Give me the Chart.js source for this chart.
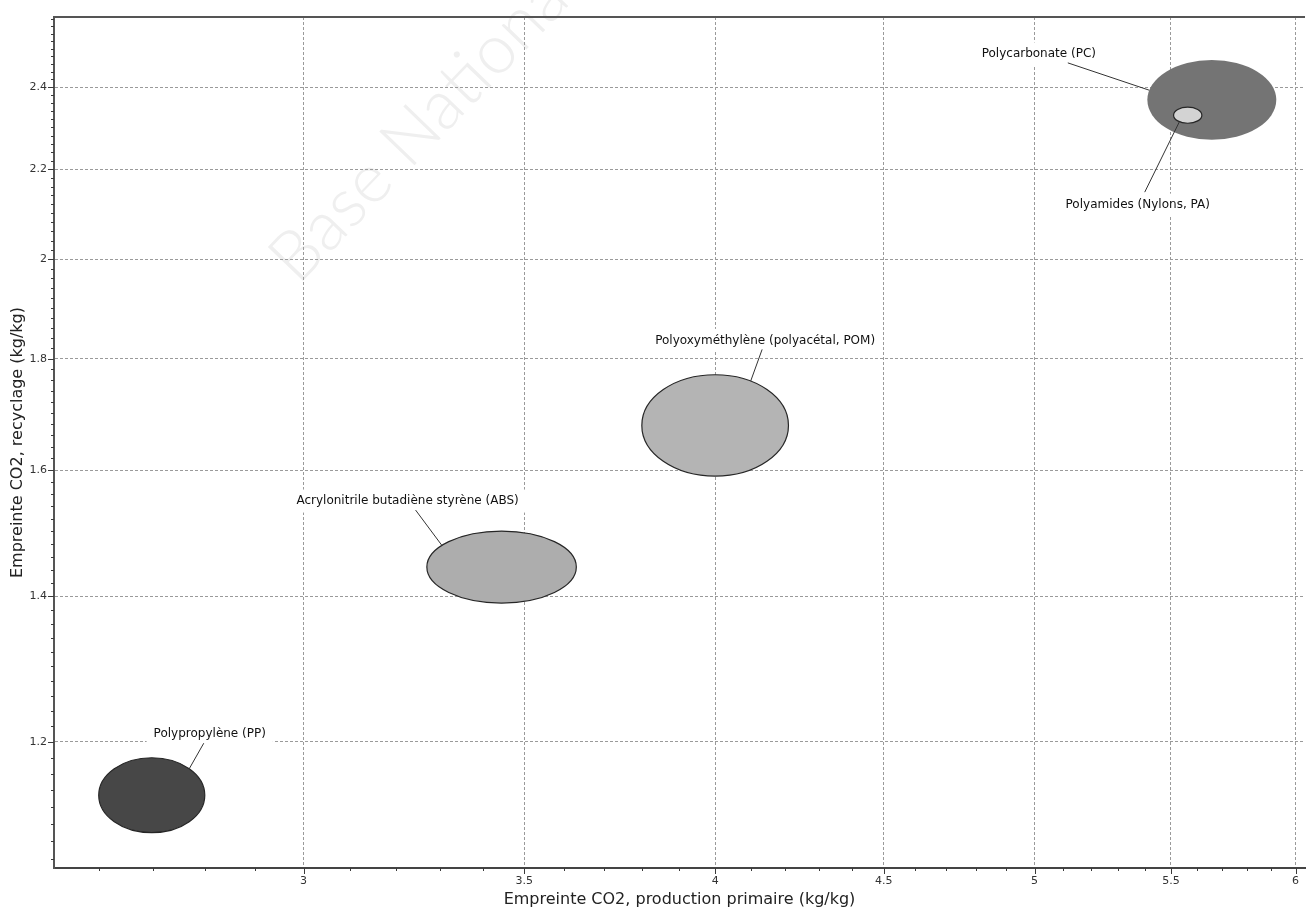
<!DOCTYPE html>
<html>
<head>
<meta charset="utf-8">
<script src="https://cdn.jsdelivr.net/npm/chart.js@4.4.1/dist/chart.umd.min.js"></script>
<style>
  html, body { margin: 0; padding: 0; background: #ffffff; }
  #wrap { width: 1306px; height: 910px; }
</style>
</head>
<body>
<div id="wrap"><canvas id="chart" width="1306" height="910"></canvas></div>
<script>
// Materials and their CO2 footprint ranges (kg/kg)
const materials = [
  'Polypropylène (PP)',
  'Acrylonitrile butadiène styrène (ABS)',
  'Polyoxyméthylène (polyacétal, POM)',
  'Polycarbonate (PC)',
  'Polyamides (Nylons, PA)'
];
const primaryMin = [2.6, 3.27, 3.8, 5.41, 5.51];
const primaryMax = [2.8, 3.63, 4.21, 5.92, 5.62];
const recycleMin = [1.09, 1.39, 1.59, 2.27, 2.31];
const recycleMax = [1.18, 1.50, 1.77, 2.47, 2.35];

// Labelled axis ticks
const xTickValues = [3, 3.5, 4, 4.5, 5, 5.5, 6];
const yTickValues = [1.2, 1.4, 1.6, 1.8, 2, 2.2, 2.4];

const xTitle = 'Empreinte CO2, production primaire (kg/kg)';
const yTitle = 'Empreinte CO2, recyclage (kg/kg)';
const watermark = 'Base Nationale';

// Appearance of each bubble
const fills = ['#474747', '#adadad', '#b4b4b4', '#747474', '#d3d3d3'];
const outlines = ['#262626', '#262626', '#262626', null, '#262626'];
// Label placement: text centre offset from bubble centre, leader start offset from text centre,
// and the angle on the bubble outline where the leader ends (degrees)
const labelLayout = [
  { dx: 58, dy: -61, sx: -6, sy: 9, a: -45 },
  { dx: -94, dy: -66, sx: 8, sy: 9, a: -143 },
  { dx: 50, dy: -85, sx: -3, sy: 9, a: -61 },
  { dx: -173, dy: -46, sx: 29, sy: 9, a: 194 },
  { dx: -50, dy: 90, sx: 7, sy: -13, a: 126 }
];

const FONT = '"DejaVu Sans", Verdana, sans-serif';
const majorX = new Set(xTickValues);
const majorY = new Set(yTickValues);

function stepTicks(from, to, step) {
  const out = [];
  const n = Math.round((to - from) / step);
  for (let i = 0; i <= n; i++) out.push(Math.round((from + i * step) * 1000) / 1000);
  return out;
}
const xAllTicks = stepTicks(2.6, 6.0, 0.1);
const yAllTicks = stepTicks(1.06, 2.58, 0.02);

const datasets = materials.map((name, i) => ({
  label: name,
  data: [{ x: Math.sqrt(primaryMin[i] * primaryMax[i]), y: Math.sqrt(recycleMin[i] * recycleMax[i]) }],
  pointRadius: 0,
  pointHoverRadius: 0,
  backgroundColor: fills[i]
}));

const rangeBubbles = {
  id: 'rangeBubbles',
  beforeDraw(chart) {
    const { ctx } = chart;
    ctx.save();
    ctx.translate(298, 286);
    ctx.rotate(-46 * Math.PI / 180);
    ctx.font = '300 69px Lato, "Open Sans", sans-serif';
    ctx.fillStyle = '#efefef';
    ctx.textBaseline = 'alphabetic';
    ctx.fillText(watermark, 0, 0);
    ctx.restore();
  },
  afterDatasetsDraw(chart) {
    const { ctx, scales: { x, y } } = chart;
    const geo = materials.map((m, i) => {
      const x0 = x.getPixelForValue(primaryMin[i]);
      const x1 = x.getPixelForValue(primaryMax[i]);
      const y0 = y.getPixelForValue(recycleMax[i]);
      const y1 = y.getPixelForValue(recycleMin[i]);
      return { cx: (x0 + x1) / 2, cy: (y0 + y1) / 2, rx: (x1 - x0) / 2, ry: (y1 - y0) / 2 };
    });
    ctx.save();
    geo.forEach((g, i) => {
      ctx.beginPath();
      ctx.ellipse(g.cx, g.cy, g.rx, g.ry, 0, 0, Math.PI * 2);
      ctx.fillStyle = fills[i];
      ctx.fill();
      if (outlines[i]) {
        ctx.lineWidth = 1.2;
        ctx.strokeStyle = outlines[i];
        ctx.stroke();
      }
    });
    // leaders and labels
    ctx.font = '12px ' + FONT;
    ctx.textAlign = 'center';
    ctx.textBaseline = 'middle';
    geo.forEach((g, i) => {
      const L = labelLayout[i];
      const tx = g.cx + L.dx, ty = g.cy + L.dy;
      const w = ctx.measureText(materials[i]).width;
      ctx.fillStyle = '#ffffff';
      ctx.fillRect(tx - w / 2 - 7, ty - 11.5, w + 14, 23);
      const ang = L.a * Math.PI / 180;
      ctx.beginPath();
      ctx.moveTo(tx + L.sx, ty + L.sy);
      ctx.lineTo(g.cx + g.rx * Math.cos(ang), g.cy + g.ry * Math.sin(ang));
      ctx.lineWidth = 1;
      ctx.strokeStyle = '#333333';
      ctx.stroke();
      ctx.fillStyle = '#111111';
      ctx.fillText(materials[i], tx, ty);
    });
    ctx.restore();
  },
  afterDraw(chart) {
    const { ctx, chartArea: a, scales: { x, y } } = chart;
    ctx.save();
    ctx.strokeStyle = '#3a3a3a';
    ctx.lineWidth = 1;
    ctx.beginPath();
    xAllTicks.forEach(v => {
      const px = Math.round(x.getPixelForValue(v)) + 0.5;
      const len = majorX.has(v) ? 6 : 3;
      ctx.moveTo(px, a.bottom);
      ctx.lineTo(px, a.bottom + len);
    });
    yAllTicks.forEach(v => {
      const py = Math.round(y.getPixelForValue(v)) + 0.5;
      const len = majorY.has(v) ? 6 : 3;
      ctx.moveTo(a.left - len, py);
      ctx.lineTo(a.left, py);
    });
    ctx.stroke();
    // top frame line
    ctx.strokeStyle = '#555555';
    ctx.lineWidth = 2;
    ctx.beginPath();
    ctx.moveTo(a.left, a.top);
    ctx.lineTo(a.right, a.top);
    ctx.stroke();
    ctx.restore();
  }
};

const gridColor = set => c => (c.tick && set.has(Math.round(c.tick.value * 1000) / 1000)) ? '#9a9a9a' : 'rgba(0,0,0,0)';

new Chart(document.getElementById('chart'), {
  type: 'scatter',
  data: { datasets },
  plugins: [rangeBubbles],
  options: {
    responsive: false,
    animation: false,
    events: [],
    layout: { padding: { top: 17, right: 0, bottom: 0, left: 0 } },
    plugins: { legend: { display: false }, tooltip: { enabled: false } },
    scales: {
      x: {
        type: 'logarithmic',
        min: 2.52,
        max: 6.04,
        afterFit: s => { s.height = 42; },
        afterBuildTicks: s => { s.ticks = xAllTicks.map(v => ({ value: v })); },
        grid: { color: gridColor(majorX), lineWidth: 1, drawTicks: false },
        border: { display: true, color: '#444444', width: 2, dash: [3, 2] },
        ticks: {
          autoSkip: false, maxRotation: 0, padding: 7,
          color: '#333333', font: { family: FONT, size: 11 },
          callback: v => majorX.has(Math.round(v * 1000) / 1000) ? String(Math.round(v * 1000) / 1000) : ''
        },
        title: { display: true, text: xTitle, color: '#222222', font: { family: FONT, size: 16 }, padding: { top: 0, bottom: 1 } }
      },
      y: {
        type: 'logarithmic',
        min: 1.05,
        max: 2.585,
        afterFit: s => { s.width = 54; },
        afterBuildTicks: s => { s.ticks = yAllTicks.map(v => ({ value: v })); },
        grid: { color: gridColor(majorY), lineWidth: 1, drawTicks: false },
        border: { display: true, color: '#555555', width: 2, dash: [3, 2] },
        ticks: {
          autoSkip: false, padding: 7,
          color: '#333333', font: { family: FONT, size: 11 },
          callback: v => majorY.has(Math.round(v * 1000) / 1000) ? String(Math.round(v * 1000) / 1000) : ''
        },
        title: { display: true, text: yTitle, color: '#222222', font: { family: FONT, size: 16 }, padding: { top: 8, bottom: 0 } }
      }
    }
  }
});
</script>
</body>
</html>
